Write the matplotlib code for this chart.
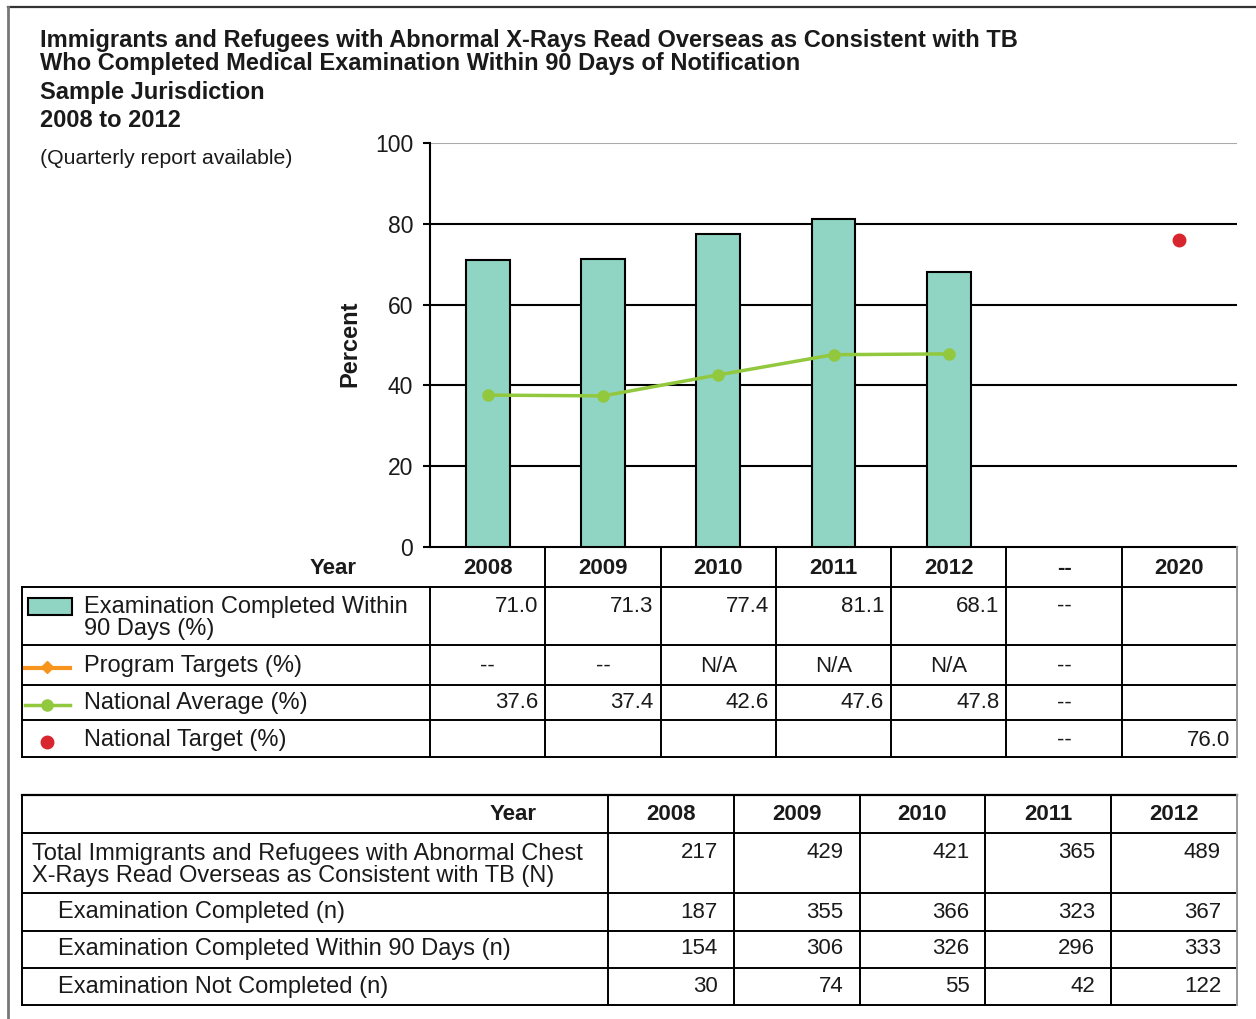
import numpy as np
import matplotlib
matplotlib.use("Agg")
import matplotlib.pyplot as plt
from matplotlib.patches import Rectangle
from matplotlib.lines import Line2D

plt.rcParams['font.family'] = ['Liberation Sans', 'DejaVu Sans']

# ---- data ----
years = ["2008", "2009", "2010", "2011", "2012", "--", "2020"]
exam_pct = [71.0, 71.3, 77.4, 81.1, 68.1]
program_targets = ["--", "--", "N/A", "N/A", "N/A"]
natl_avg = [37.6, 37.4, 42.6, 47.6, 47.8]
natl_target_year = "2020"
natl_target = 76.0

row_labels = ["Examination Completed Within\n90 Days (%)", "Program Targets (%)",
              "National Average (%)", "National Target (%)"]

count_years = ["2008", "2009", "2010", "2011", "2012"]
count_labels = ["Total Immigrants and Refugees with Abnormal Chest\nX-Rays Read Overseas as Consistent with TB (N)",
                "Examination Completed (n)",
                "Examination Completed Within 90 Days (n)",
                "Examination Not Completed (n)"]
total_n = [217, 429, 421, 365, 489]
exam_completed = [187, 355, 366, 323, 367]
within_90 = [154, 306, 326, 296, 333]
not_completed = [30, 74, 55, 42, 122]

W, H = 1256, 1019
TXT = '#1a1a1a'
BAR = '#90d4c3'
GREEN = '#92c83e'
RED = '#d7262e'
ORANGE = '#f7941d'
LBL = 17   # row label size
NUM = 16   # cell value size

fig = plt.figure(figsize=(W / 100, H / 100), dpi=100)

# chart area, pixel box
cx0, cx1, cy_top, cy_bot = 430, 1237, 143, 547
ax = fig.add_axes([cx0 / W, 1 - cy_bot / H, (cx1 - cx0) / W, (cy_bot - cy_top) / H])
x = np.arange(len(exam_pct))
ax.bar(x, exam_pct, width=0.38, color=BAR, edgecolor='black', linewidth=1.5, zorder=3)
ax.plot(x, natl_avg, color=GREEN, lw=2.5, marker='o', ms=8, zorder=4)
ax.plot([years.index(natl_target_year)], [natl_target], 'o', color=RED, ms=9, zorder=4)
ax.set_xlim(-0.5, len(years) - 0.5)
ax.set_ylim(0, 100)
ax.set_yticks(range(0, 101, 20))
for yv in range(20, 100, 20):
    ax.axhline(yv, color='black', lw=1.5, zorder=1)
ax.axhline(100, color='#a9a9a9', lw=1.5, zorder=1)
ax.set_xticks([])
for s in ['top', 'right']:
    ax.spines[s].set_visible(False)
ax.spines['left'].set_linewidth(1.5)
ax.spines['bottom'].set_linewidth(1.5)
ax.tick_params(axis='y', direction='out', length=5, width=1.5, pad=7,
               labelsize=16.5, labelcolor=TXT)

# overlay in pixel coordinates for titles and tables
ov = fig.add_axes([0, 0, 1, 1], zorder=5)
ov.set_xlim(0, W)
ov.set_ylim(H, 0)
ov.axis('off')
ov.patch.set_alpha(0)

def hline(y, x0, x1, c='black', lw=1.4):
    ov.add_line(Line2D([x0, x1], [y, y], color=c, lw=lw))

def vline(xp, y0, y1, c='black', lw=1.4):
    ov.add_line(Line2D([xp, xp], [y0, y1], color=c, lw=lw))

# frame
hline(7, 8, W, c='#333333', lw=1.6)
vline(8, 7, H, c='#777777', lw=2)

# titles
ov.text(40, 40, "Immigrants and Refugees with Abnormal X-Rays Read Overseas as Consistent with TB",
        fontsize=17, fontweight='bold', color=TXT, va='center')
ov.text(40, 63, "Who Completed Medical Examination Within 90 Days of Notification",
        fontsize=17, fontweight='bold', color=TXT, va='center')
ov.text(40, 92, "Sample Jurisdiction", fontsize=17, fontweight='bold', color=TXT, va='center')
ov.text(40, 120, "2008 to 2012", fontsize=17, fontweight='bold', color=TXT, va='center')
ov.text(40, 158, "(Quarterly report available)", fontsize=15.3, color=TXT, va='center')
ov.text(350, 344, "Percent", fontsize=17, fontweight='bold', color=TXT,
        rotation=90, ha='center', va='center')

# ---- table 1 (legend + values) ----
tl = 22
edges = np.linspace(cx0, cx1, len(years) + 1)
rows1 = [547, 587, 645, 685, 720, 757]
ov.text(357, 568, "Year", fontsize=16, fontweight='bold', color=TXT, ha='right', va='center')
for i, yr in enumerate(years):
    ov.text((edges[i] + edges[i + 1]) / 2, 568, yr, fontsize=16, fontweight='bold',
            color=TXT, ha='center', va='center')
for yv in rows1[1:]:
    hline(yv, tl, cx1)
vline(tl, rows1[1], rows1[-1])
for e in edges[1:-1]:
    vline(e, rows1[0], rows1[-1])
vline(edges[0], rows1[1], rows1[-1])
vline(cx1, rows1[0], rows1[-1], c='#9a9a9a', lw=1.4)

# legend symbols
ov.add_patch(Rectangle((28, 598), 44, 17, facecolor=BAR, edgecolor='black', lw=1.5))
ov.plot([25, 70], [668, 668], color=ORANGE, lw=3)
ov.plot([47], [667], 'D', color=ORANGE, ms=6)
ov.plot([25, 70], [705, 705], color=GREEN, lw=2.5)
ov.plot([47], [705], 'o', color=GREEN, ms=8)
ov.plot([47], [742], 'o', color=RED, ms=9)

label_y = [606, 666, 703, 740]
ov.text(84, 596, row_labels[0], fontsize=LBL, color=TXT, va='top', linespacing=1.0)
for r in range(1, 4):
    ov.text(84, label_y[r], row_labels[r], fontsize=LBL, color=TXT, va='center')

def cell1(i, y, s, align='right'):
    if align == 'right':
        ov.text(edges[i + 1] - 7, y, s, fontsize=NUM, color=TXT, ha='right', va='center')
    else:
        ov.text((edges[i] + edges[i + 1]) / 2, y, s, fontsize=NUM, color=TXT,
                ha='center', va='center')

for i, v in enumerate(exam_pct):
    cell1(i, label_y[0], f"{v:.1f}")
for i, s in enumerate(program_targets):
    cell1(i, label_y[1], s, align='center')
for i, v in enumerate(natl_avg):
    cell1(i, label_y[2], f"{v:.1f}")
gap = years.index("--")
for r in range(4):
    cell1(gap, label_y[r], "--", align='center')
cell1(years.index(natl_target_year), label_y[3], f"{natl_target:.1f}")

# ---- table 2 (counts) ----
edges2 = np.linspace(608, cx1, len(count_years) + 1)
rows2 = [795, 833, 893, 931, 968, 1005]
for yv in rows2:
    hline(yv, tl, cx1, lw=1.6 if yv == rows2[0] else 1.4)
vline(tl, rows2[0], rows2[-1])
for e in edges2[:-1]:
    vline(e, rows2[0], rows2[-1])
vline(cx1, rows2[0], rows2[-1], c='#9a9a9a', lw=1.4)
ov.text(537, 814, "Year", fontsize=16, fontweight='bold', color=TXT, ha='right', va='center')
for i, yr in enumerate(count_years):
    ov.text((edges2[i] + edges2[i + 1]) / 2, 814, yr, fontsize=16, fontweight='bold',
            color=TXT, ha='center', va='center')
ov.text(32, 843, count_labels[0], fontsize=LBL, color=TXT, va='top', linespacing=1.0)
val_y = [853, 912, 949, 987]
for r in range(1, 4):
    ov.text(58, val_y[r], count_labels[r], fontsize=LBL, color=TXT, va='center')
for r, series in enumerate([total_n, exam_completed, within_90, not_completed]):
    for i, v in enumerate(series):
        ov.text(edges2[i + 1] - 16, val_y[r], str(v), fontsize=NUM, color=TXT,
                ha='right', va='center')

fig.savefig("out.png", dpi=100)
